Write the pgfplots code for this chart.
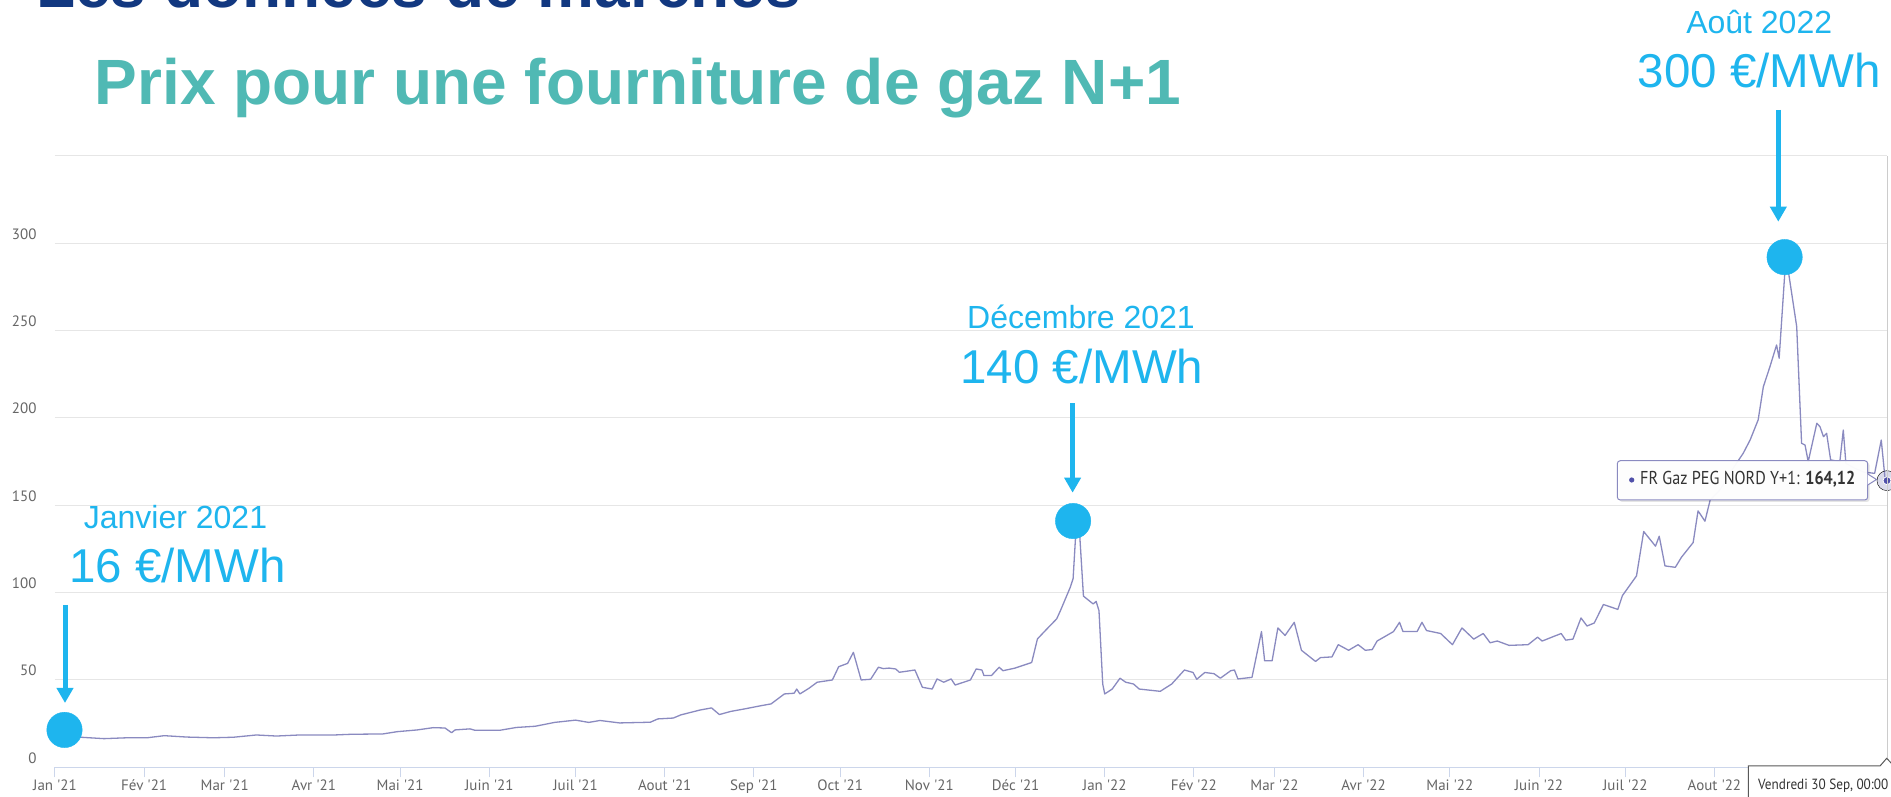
\documentclass[border=0pt]{standalone}
\usepackage{pgfplots}
\pgfplotsset{compat=1.18}
\usepackage{fontspec}
\usepackage{graphicx}
\usetikzlibrary{arrows.meta}
\setmainfont{Liberation Sans}
\newfontfamily\chartfont{PT Sans}
\definecolor{annblue}{RGB}{30,181,238}
\definecolor{subteal}{RGB}{80,185,180}
\definecolor{navytitle}{RGB}{18,56,128}
\definecolor{gridgrey}{RGB}{230,230,230}
\definecolor{axisblue}{RGB}{204,214,235}
\definecolor{labelgrey}{RGB}{102,102,102}
\definecolor{serieslav}{RGB}{138,138,192}
\definecolor{dotpurple}{RGB}{80,80,170}
\definecolor{tiptext}{RGB}{51,51,51}

\begin{document}
\begin{tikzpicture}
\useasboundingbox (0,0) rectangle (1891pt,797pt);
\clip (0,0) rectangle (1891pt,797pt);
\fill[white] (0,0) rectangle (1891pt,797pt);

\node[anchor=base west, inner sep=0pt, text=navytitle, font=\fontsize{64}{70}\selectfont\bfseries] at (36pt,789.5pt) {Les données de marchés};
\node[anchor=base west, inner sep=0pt, text=subteal, font=\fontsize{64}{70}\selectfont\bfseries] at (94.5pt,692pt) {Prix pour une fourniture de gaz N+1};

\begin{axis}[
  at={(55pt,29.7pt)}, anchor=south west,
  scale only axis, width=1832pt, height=611.3pt,
  xmin=0, xmax=637, ymin=0, ymax=350,
  /pgf/number format/assume math mode=true,
  axis x line*=bottom, axis y line*=left,
  x axis line style={draw=axisblue, line width=1pt, -},
  y axis line style={draw=none},
  xtick={0,31,59,90,120,151,181,212,243,273,304,334,365,396,424,455,485,516,546,577},
  xticklabels={Jan \textquotesingle21, Fév \textquotesingle21, Mar \textquotesingle21, Avr \textquotesingle21, Mai \textquotesingle21, Juin \textquotesingle21, Juil \textquotesingle21, Aout \textquotesingle21, Sep \textquotesingle21, Oct \textquotesingle21, Nov \textquotesingle21, Déc \textquotesingle21, Jan \textquotesingle22, Fév \textquotesingle22, Mar \textquotesingle22, Avr \textquotesingle22, Mai \textquotesingle22, Juin \textquotesingle22, Juil \textquotesingle22, Aout \textquotesingle22},
  ytick={0,50,...,300},
  extra y ticks={350}, extra y tick labels={},
  extra y tick style={grid=major, ytick style={draw=none}},
  ymajorgrids,
  major grid style={draw=gridgrey, line width=1pt},
  tick align=outside,
  major tick length=10pt,
  xtick style={draw=axisblue, line width=1pt},
  ytick style={draw=none},
  xticklabel style={font=\chartfont\fontsize{15}{18}\selectfont, text=labelgrey, anchor=base, inner sep=0pt, yshift=-13pt},
  yticklabel style={font=\chartfont\fontsize{15}{18}\selectfont, text=labelgrey, anchor=base east, inner sep=0pt, xshift=-8.3pt, yshift=4pt},
]
\addplot[serieslav, line width=1.3pt, line join=round] coordinates {
(1,17.3) (4,17.2) (9,17.2) (17,16.4) (25,16.9) (32,16.9) (38,18.1) (46,17.3) (55,16.9) (62,17.2) (70,18.5) (77,17.9) (85,18.5) (97,18.5) (103,18.9) (114,19.1) (119,20.4) (126,21.4) (131.5,22.7) (135.6,22.5) (137.9,19.8) (139.1,21.4) (144.3,22) (146,21.2) (154.7,21.2) (160.4,22.8) (167,23.5) (173.7,25.7) (181,27) (185.6,25.7) (189.5,26.8) (196.3,25.4) (207,25.8) (209.6,27.7) (215,28.2) (217.6,30) (224.3,32.8) (228.3,34) (231,30.2) (235,32) (240,33.5) (245.6,35.3) (249,36.3) (253.6,42) (257,42.4) (257.9,44.8) (259,42) (262.3,45.4) (265,48.7) (270.3,50) (272.5,57.6) (275.6,59.5) (277.6,65.8) (280.3,50) (283.6,50.4) (286.3,57.3) (288,56.5) (290,56.8) (292.3,56.3) (293.6,54.4) (299,55.7) (301.6,45.8) (305,44.8) (306.7,50.6) (309,48.7) (311.6,50.6) (313,47.1) (318.3,50) (320.3,56.3) (322.3,55.7) (323,52.5) (325.6,52.5) (328.3,57.3) (329.6,55.3) (333.6,56.7) (339.6,60) (341.6,73.5) (344.3,78.2) (348.3,85) (349.6,89.7) (353,103) (354,108) (355,136) (356.3,133) (357.6,98) (361,93.5) (362,95) (363,89.7) (364.3,47.7) (365,42) (367.6,44.8) (370.3,51) (372.3,48.7) (375,47.7) (377,44.8) (384.3,43.5) (388.3,47.7) (392.7,55.7) (395.7,54.3) (397,50.4) (399.8,54.3) (403,53.6) (405.2,51) (408.8,55.3) (410.1,55.7) (411.3,50.6) (416.2,51.5) (419.5,77.7) (420.6,61) (423.2,61) (425.2,79.8) (427.7,75.5) (430.9,83) (433.4,67) (438.3,60.6) (440,62.8) (444,63.2) (446.2,70.2) (449.8,67) (453.1,70.2) (455.6,67) (458,67.4) (459.7,72.3) (465.4,77.7) (467.5,83) (468.7,77.7) (473.6,77.7) (475.3,83) (476.9,78.3) (481.8,76.6) (485.9,70.2) (489.2,79.8) (493.3,73.4) (496.6,76.6) (499,71.3) (501.5,72.3) (505.6,69.8) (512.2,70.2) (515.5,74.5) (517.1,72.3) (523.7,76.6) (525.3,72.8) (527.8,73.4) (530.6,85.5) (532.7,80.9) (535.2,82.6) (538.4,93.2) (543.4,90.4) (545,98.3) (549.9,109.6) (552.4,135) (556.5,126.6) (557.8,132.3) (559.8,115.3) (563.4,114.5) (565.5,120.2) (569.6,128.7) (571.3,146.8) (573.7,140.9) (575.5,153) (578.9,158.8) (583,170) (587,179.8) (589.4,187.4) (592.2,198.9) (594,217.9) (596.3,229.4) (598.6,241.8) (599.5,234.2) (601.5,284) (602.7,284) (605.6,252.3) (607.3,185.5) (608.5,184.5) (609.6,175) (612.6,197) (613.7,195) (614.9,189.3) (616,191.2) (617.4,176) (620.6,175) (621.8,193.1) (622.7,174) (626,171) (629,169) (632.7,168.3) (635,187.4) (636.3,165.6) (637,164.12)
};
\addplot[only marks, mark=*, mark size=17.7pt, annblue, mark options={draw=none, fill=annblue}] coordinates {(3.3,21.4) (354,141) (601.4,292.1)};
\addplot[only marks, mark=*, mark size=10pt, mark options={draw=none, fill=serieslav, fill opacity=0.3}] coordinates {(637,164.12)};
\addplot[only marks, mark=*, mark size=4pt, mark options={draw=white, line width=0.8pt, fill=dotpurple}] coordinates {(637,164.12)};
\end{axis}

% crosshair line
\draw[black!20, line width=1pt] (1887pt,38.7pt) -- (1887pt,641pt);

% annotations
\node[anchor=base, inner sep=0pt, text=annblue, font=\fontsize{32}{36}\selectfont] at (175.5pt,268pt) {Janvier 2021};
\node[anchor=base, inner sep=0pt, text=annblue, font=\fontsize{47.5}{52}\selectfont] at (177.4pt,214.2pt) {16 €/MWh};
\draw[annblue, line width=5pt, -{Triangle[width=16pt,length=15pt]}] (65pt,192pt) -- (65pt,94pt);

\node[anchor=base, inner sep=0pt, text=annblue, font=\fontsize{32}{36}\selectfont] at (1081pt,468.7pt) {Décembre 2021};
\node[anchor=base, inner sep=0pt, text=annblue, font=\fontsize{47.5}{52}\selectfont] at (1082pt,413.7pt) {140 €/MWh};
\draw[annblue, line width=5pt, -{Triangle[width=16pt,length=15pt]}] (1072.6pt,393.7pt) -- (1072.6pt,304.3pt);

\node[anchor=base, inner sep=0pt, text=annblue, font=\fontsize{32}{36}\selectfont] at (1759.2pt,763.7pt) {Août 2022};
\node[anchor=base, inner sep=0pt, text=annblue, font=\fontsize{47.5}{52}\selectfont] at (1759.2pt,709.7pt) {300 €/MWh};
\draw[annblue, line width=5pt, -{Triangle[width=16pt,length=15pt]}] (1778.3pt,687pt) -- (1778.3pt,575.3pt);

% upper tooltip
\fill[black, opacity=0.10, rounded corners=3pt] (1619.3pt,295pt) rectangle (1869.7pt,334.3pt);
\filldraw[fill=white, fill opacity=0.96, draw=serieslav, line width=1pt, rounded corners=3pt] (1617.3pt,297pt) rectangle (1867.7pt,336.3pt);
\filldraw[fill=white, draw=serieslav, line width=1pt] (1867.7pt,323pt) -- (1876.5pt,317.5pt) -- (1867.7pt,312pt);
\fill[dotpurple] (1631.7pt,317pt) circle (2.6pt);
\node[anchor=base west, inner sep=0pt, text=tiptext, font=\chartfont] at (1640pt,312pt) {\resizebox{215pt}{13.3pt}{FR Gaz PEG NORD Y+1: \textbf{164,12}}};

% bottom crosshair label
\filldraw[fill=white, draw=black!65, line width=1pt] (1748.3pt,-2pt) -- (1748.3pt,31pt) -- (1880pt,31pt) -- (1886.7pt,38.7pt) -- (1893pt,32pt) -- (1893pt,-2pt) -- cycle;
\node[anchor=base west, inner sep=0pt, text=tiptext, font=\chartfont] at (1758pt,7.7pt) {\resizebox{130pt}{10.5pt}{Vendredi 30 Sep, 00:00}};
\end{tikzpicture}
\end{document}
